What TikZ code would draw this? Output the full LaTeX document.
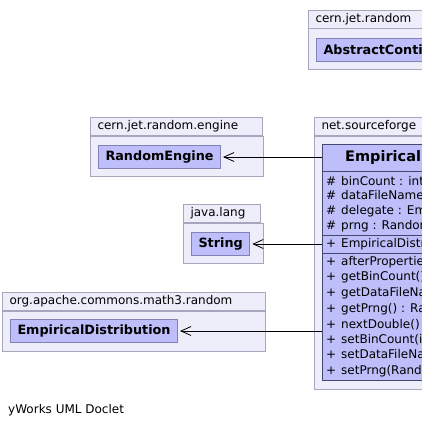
\documentclass[tikz,border=0pt]{standalone}
\usepackage{fontspec}
\setmainfont{DejaVu Sans}
\usetikzlibrary{arrows.meta}
\definecolor{pkgfill}{RGB}{238,238,250}
\definecolor{pkgline}{RGB}{166,166,190}
\definecolor{clsfill}{RGB}{190,190,250}
\definecolor{clsline}{RGB}{130,130,180}
\definecolor{mainline}{RGB}{70,70,110}
\newcommand{\pbody}[2]{\filldraw[pkg] (#1) rectangle (#2)}
\newcommand{\ptab}[4]{\node[pkgtab,text width=#3] (#1) at (#2) {#4}}
\newcommand{\csep}[1]{\draw[mainline] (#1) -- ++(400,0)}
\newcommand{\vis}[1]{\makebox[15pt][l]{#1}}

\begin{document}
\begin{tikzpicture}[x=1pt,y=-1pt,
	pkg/.style={fill=pkgfill,draw=pkgline,line width=1pt},
	pkgtab/.style={pkg,anchor=south west,inner xsep=7pt,inner ysep=0pt,
		minimum height=18pt,align=left,font=\fontsize{12}{14}\selectfont},
	cls/.style={fill=clsfill,draw=clsline,line width=1pt,anchor=north west,
		inner xsep=7pt,minimum height=23pt,font=\bfseries\fontsize{12.8}{14}\selectfont},
	mbr/.style={anchor=west,inner sep=0pt,font=\fontsize{12}{14}\selectfont},
	dep/.style={-{Straight Barb[length=10pt,width=9pt]},shorten >=2pt,line width=0.8pt}]
\useasboundingbox (0,0) rectangle (422,428);
\clip (0,0) rectangle (422,428);
%Packages
	\pbody{308,29}{700,69};
	\ptab{pjr}{308,29}{120pt}{cern.jet.random};
	\pbody{90,136}{263,176};
	\ptab{pjre}{90,136}{158pt}{cern.jet.random.engine};
	\pbody{314,136}{700,389};
	\ptab{pnet}{314,136}{130pt}{net.sourceforge};
	\pbody{183,223}{263,263};
	\ptab{pjl}{183,223}{63pt}{java.lang};
	\pbody{2,311}{265,351};
	\ptab{poa}{2,311}{249pt}{org.apache.commons.math3.random};
%Classes
	\node[cls] (acd) at (316,38) {AbstractContinousDistribution};
	\node[cls] (re) at (98,145) {RandomEngine};
	\node[cls] (str) at (191,232) {String};
	\node[cls] (ed) at (10,319) {EmpiricalDistribution};
%The main class
	\node[cls,draw=mainline,minimum width=400pt,minimum height=236pt] (main) at (322,144) {};
	\node[anchor=west,inner sep=0pt,font=\bfseries\fontsize{14.5}{16}\selectfont]
		(head) at (345,158) {EmpiricalDistributionRandomEngine};
	\csep{322,171.5};
	\csep{322,235.5};
	\csep{322,253};
	\foreach \y/\s/\t [count=\i] in {
		181/\#/{binCount : int},
		196/\#/{dataFileName : String},
		211/\#/{delegate : EmpiricalDistribution},
		226/\#/{prng : RandomEngine},
		244.5/+/{EmpiricalDistributionRandomEngine()},
		262/+/{afterPropertiesSet()},
		277.6/+/{getBinCount() : int},
		293.2/+/{getDataFileName() : String},
		308.8/+/{getPrng() : RandomEngine},
		324.4/+/{nextDouble() : double},
		340/+/{setBinCount(int)},
		355.6/+/{setDataFileName(String)},
		371.2/+/{setPrng(RandomEngine)}}
		\node[mbr] (m\i) at (326,\y) {\vis{\s}\t};
%Dependencies
	\draw[dep] (re -| main.west) -- (re.east);
	\draw[dep] (str -| main.west) -- (str.east);
	\draw[dep] (ed -| main.west) -- (ed.east);
%Footer
	\node[mbr] (doclet) at (8,410) {yWorks UML Doclet};
\end{tikzpicture}
\end{document}
